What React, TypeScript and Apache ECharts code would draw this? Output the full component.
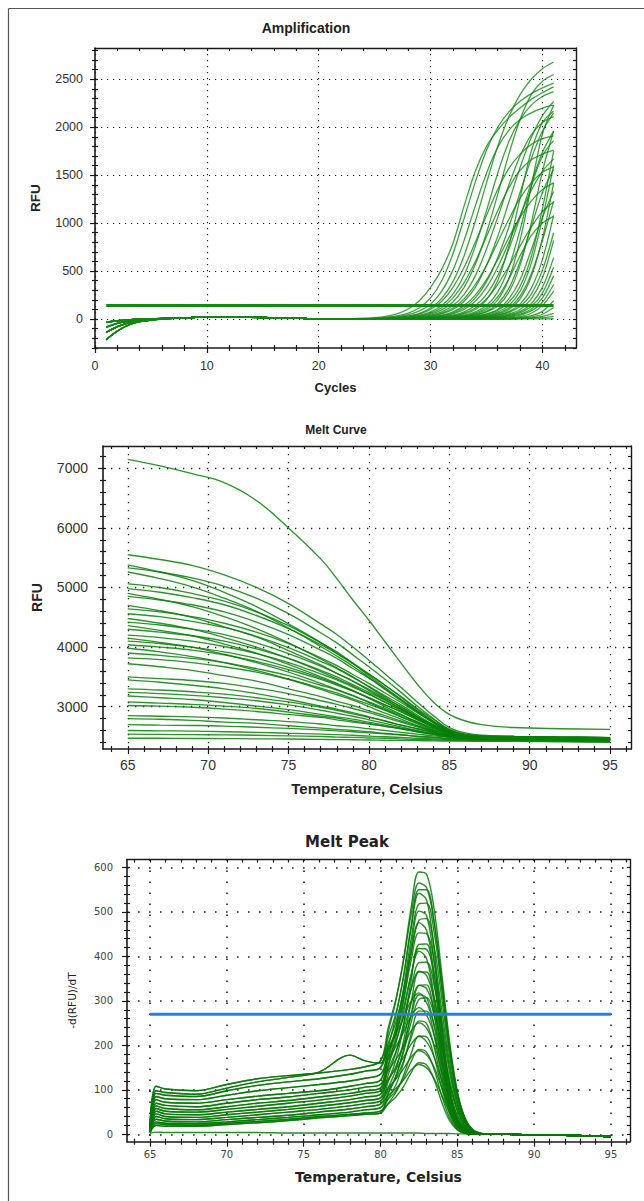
import React, { useEffect, useRef } from "react";
import * as echarts from "echarts";

// ================= Amplification =================
const AMP_CYCLES = [1,2,3,4,5,6,7,8,9,10,11,12,13,14,15,16,17,18,19,20,21,22,23,24,25,26,27,28,29,30,31,32,33,34,35,36,37,38,39,40,41];
// cycles 1..21 (baseline shapes)
const AMP_EARLY = [
  [-35,-18,-8,-2,2,6,10,14,17,19,20,20,19,17,15,12,9,7,5,3,2],
  [-85,-45,-22,-10,-3,3,9,13,17,19,21,21,20,18,15,12,10,7,5,3,2],
  [-140,-80,-40,-18,-6,2,8,13,17,20,22,22,21,18,16,13,10,7,5,3,2],
  [-215,-125,-62,-28,-10,0,7,13,17,20,22,22,21,19,16,13,10,7,5,3,1],
];
// cycles 22..41
const AMP_LATE = [
  [3,5,8,14,28,55,105,190,330,520,790,1180,1540,1800,1970,2100,2200,2290,2360,2420],
  [2,3,5,9,17,32,62,118,220,400,680,1050,1430,1760,2000,2160,2270,2350,2410,2460],
  [2,3,4,7,13,24,45,85,155,290,510,820,1180,1520,1790,1970,2080,2150,2200,2230],
  [2,2,3,5,9,17,32,60,115,215,390,660,1020,1420,1800,2110,2340,2500,2610,2680],
  [1,2,3,5,8,15,28,52,100,185,330,540,800,1080,1350,1570,1720,1820,1880,1910],
  [1,2,3,4,7,12,22,40,75,140,260,460,760,1130,1520,1850,2080,2230,2320,2370],
  [1,2,2,4,6,10,18,33,62,118,220,380,600,860,1130,1370,1550,1660,1720,1760],
  [1,1,2,3,5,8,15,27,50,95,178,330,570,900,1300,1720,2080,2340,2480,2550],
  [1,1,2,3,4,7,12,22,40,75,140,258,450,730,1060,1400,1700,1920,2050,2110],
  [1,1,2,3,4,6,10,18,33,62,115,210,360,560,800,1040,1260,1420,1530,1590],
  [1,1,1,2,3,5,9,16,29,54,100,185,330,560,860,1220,1580,1890,2120,2270],
  [1,1,1,2,3,4,7,12,22,40,75,140,250,410,620,850,1060,1230,1350,1420],
  [1,1,1,2,3,4,6,10,18,34,63,118,220,390,640,960,1320,1670,1960,2150],
  [0,1,1,1,2,3,5,9,16,29,54,100,185,330,540,800,1080,1340,1540,1670],
  [0,1,1,1,2,3,4,7,12,22,40,75,140,258,450,730,1060,1420,1740,1960],
  [0,1,1,1,2,3,4,6,10,18,33,62,115,210,360,550,760,960,1120,1220],
  [0,0,1,1,1,2,3,5,9,16,29,54,100,200,400,760,1260,1750,2050,2170],
  [0,0,1,1,1,2,3,4,7,12,22,40,75,140,280,540,930,1380,1700,1860],
  [0,0,1,1,1,2,3,4,6,10,18,33,62,118,230,420,660,870,1000,1070],
  [0,0,0,1,1,1,2,3,5,9,16,29,54,100,200,420,820,1380,1930,2230],
  [0,0,0,1,1,1,2,3,4,7,13,23,43,80,160,320,600,960,1320,1560],
  [0,0,0,0,1,1,2,3,4,7,12,22,40,75,135,280,560,1000,1540,1960],
  [0,0,0,0,1,1,1,2,3,5,9,16,29,54,100,210,410,720,1060,1330],
  [0,0,0,0,0,1,1,2,3,5,8,15,27,50,92,175,340,650,1150,1750],
  [0,0,0,0,0,1,1,2,3,4,7,12,22,40,75,140,290,580,1050,1600],
  [0,0,0,0,0,1,1,1,2,3,6,10,18,33,62,118,240,470,820,1230],
  [0,0,0,0,0,0,1,1,2,3,5,9,16,29,54,100,210,440,840,1420],
  [0,0,0,0,0,0,1,1,2,3,4,7,13,23,43,80,155,320,620,1080],
  [0,0,0,0,0,0,0,1,1,2,3,6,11,20,37,70,130,260,510,900],
  [0,0,0,0,0,0,0,1,1,2,3,5,9,16,29,54,100,210,430,820],
  [0,0,0,0,0,0,0,0,1,1,2,4,7,13,23,43,80,160,330,640],
  [0,0,0,0,0,0,0,0,1,1,2,3,6,10,19,35,66,130,270,540],
  [0,0,0,0,0,0,0,0,0,1,1,2,4,8,15,28,52,105,220,450],
  [0,0,0,0,0,0,0,0,0,1,1,2,3,6,12,22,42,85,175,360],
  [0,0,0,0,0,0,0,0,0,0,1,1,2,4,7,13,25,60,140,290],
  [0,0,0,0,0,0,0,0,0,0,0,1,1,2,4,8,16,35,80,190],
  [0,0,0,0,0,0,0,0,0,0,0,0,1,2,3,5,10,22,50,120],
  [0,0,0,0,0,0,0,0,0,0,0,0,0,1,2,3,6,12,28,60],
  [0,0,0,0,0,0,0,0,0,0,0,0,1,1,2,3,5,8,14,25],
  [0,0,0,0,0,0,0,0,0,0,0,0,0,0,0,0,1,1,2,3],
];
const AMP_THRESHOLD = 140;
const AMP_X_MAJOR = [0, 10, 20, 30, 40];
const AMP_X_MINOR = [2,4,6,8,12,14,16,18,22,24,26,28,32,34,36,38,42];
const AMP_Y_MAJOR = [0, 500, 1000, 1500, 2000, 2500];
const AMP_Y_MINOR = [-300,-200,-100,100,200,300,400,600,700,800,900,1100,1200,1300,1400,1600,1700,1800,1900,2100,2200,2300,2400,2600,2700,2800];

// ================= Melt Curve =================
const MC_TEMPS = [65,67,69,71,73,75,77,78,79,80,81,82,83,84,85,86,87,89,92,95];
const MC_CURVES = [
  [5550,5470,5370,5210,5000,4730,4390,4210,4000,3780,3550,3320,3080,2850,2650,2560,2520,2500,2490,2480],
  [5380,5260,5120,4920,4680,4390,4080,3900,3730,3520,3320,3120,2920,2730,2580,2520,2490,2480,2470,2460],
  [5330,5260,5160,5020,4820,4560,4240,4070,3870,3670,3460,3240,3010,2800,2610,2520,2490,2470,2460,2450],
  [5260,5150,5010,4820,4600,4320,4010,3850,3680,3490,3290,3100,2910,2730,2590,2520,2500,2490,2480,2470],
  [5060,5000,4900,4770,4590,4360,4070,3920,3730,3550,3360,3160,2950,2760,2590,2510,2480,2460,2450,2440],
  [4980,4920,4830,4710,4530,4310,4040,3890,3720,3540,3360,3170,2970,2790,2620,2540,2510,2500,2490,2480],
  [4900,4800,4680,4510,4310,4070,3800,3650,3500,3330,3160,2990,2820,2660,2540,2480,2460,2450,2440,2430],
  [4850,4790,4710,4590,4420,4210,3950,3810,3640,3480,3300,3120,2930,2750,2600,2520,2490,2480,2470,2460],
  [4700,4610,4500,4340,4170,3940,3700,3560,3430,3270,3120,2960,2800,2660,2550,2500,2480,2470,2460,2450],
  [4640,4590,4510,4400,4250,4060,3820,3690,3540,3390,3230,3070,2900,2740,2600,2530,2500,2490,2480,2470],
  [4560,4510,4430,4330,4180,3990,3760,3640,3490,3340,3180,3030,2860,2700,2570,2500,2470,2460,2450,2440],
  [4480,4400,4300,4160,4000,3810,3590,3470,3350,3210,3070,2940,2800,2670,2570,2520,2510,2500,2490,2480],
  [4420,4370,4300,4210,4070,3890,3680,3560,3430,3290,3140,3000,2840,2690,2570,2510,2480,2470,2460,2450],
  [4360,4280,4190,4050,3900,3710,3500,3390,3270,3140,3000,2870,2740,2610,2520,2470,2460,2450,2440,2430],
  [4300,4250,4190,4100,3970,3810,3610,3500,3370,3240,3110,2970,2830,2690,2570,2510,2490,2480,2470,2460],
  [4200,4160,4100,4010,3890,3740,3550,3450,3330,3210,3080,2950,2820,2690,2580,2520,2500,2490,2480,2470],
  [4150,4080,4000,3880,3740,3580,3390,3290,3190,3070,2950,2830,2710,2600,2520,2480,2470,2460,2450,2440],
  [4100,4060,4000,3920,3810,3660,3480,3380,3270,3150,3030,2910,2780,2660,2550,2500,2480,2470,2460,2450],
  [4040,4000,3950,3870,3760,3620,3460,3360,3260,3150,3030,2920,2790,2680,2580,2530,2510,2500,2490,2480],
  [3980,3920,3840,3740,3610,3460,3290,3200,3110,3000,2890,2790,2680,2580,2500,2470,2460,2450,2440,2430],
  [3900,3860,3810,3740,3640,3520,3360,3280,3180,3080,2970,2860,2750,2640,2550,2510,2490,2480,2470,2460],
  [3820,3790,3740,3670,3580,3460,3310,3230,3130,3040,2940,2830,2730,2630,2540,2490,2480,2470,2460,2450],
  [3720,3670,3610,3520,3430,3300,3170,3090,3020,2930,2850,2760,2680,2600,2530,2500,2495,2490,2480,2470],
  [3500,3470,3440,3390,3310,3220,3100,3040,2970,2900,2820,2740,2660,2580,2510,2480,2470,2460,2450,2440],
  [3450,3410,3360,3300,3220,3120,3010,2960,2900,2830,2760,2690,2630,2560,2510,2490,2485,2480,2470,2460],
  [3300,3280,3250,3210,3150,3080,2990,2940,2880,2820,2760,2690,2630,2570,2510,2485,2475,2470,2460,2450],
  [3240,3220,3190,3150,3100,3030,2940,2890,2840,2780,2720,2660,2600,2540,2490,2465,2455,2450,2440,2430],
  [3180,3150,3120,3070,3010,2950,2870,2830,2790,2740,2690,2640,2590,2550,2515,2500,2495,2490,2480,2470],
  [3080,3060,3040,3010,2970,2910,2840,2810,2760,2720,2670,2630,2580,2530,2490,2470,2465,2460,2450,2440],
  [3020,3010,2990,2960,2920,2870,2820,2780,2740,2710,2670,2630,2580,2540,2510,2490,2485,2480,2470,2460],
  [2850,2840,2830,2810,2780,2750,2710,2680,2660,2630,2600,2570,2540,2510,2490,2475,2470,2470,2460,2450],
  [2800,2790,2770,2740,2720,2680,2640,2620,2600,2580,2550,2530,2500,2480,2460,2455,2450,2450,2440,2430],
  [2700,2690,2685,2675,2655,2635,2610,2595,2580,2560,2545,2525,2505,2490,2470,2465,2460,2460,2450,2440],
  [2600,2595,2590,2580,2570,2555,2540,2530,2520,2505,2495,2485,2470,2460,2450,2445,2440,2440,2430,2420],
  [2540,2535,2530,2528,2520,2510,2500,2490,2485,2475,2470,2460,2450,2445,2435,2430,2430,2430,2420,2410],
  [2470,2470,2467,2465,2461,2457,2451,2448,2445,2441,2437,2434,2430,2426,2423,2421,2420,2420,2410,2400],
  [7150,7040,6910,6760,6460,6000,5480,5150,4790,4450,4090,3730,3380,3080,2870,2760,2700,2650,2630,2620],
];
const MC_X_MAJOR = [65, 70, 75, 80, 85, 90, 95];
const MC_X_MINOR = [64,66,67,68,69,71,72,73,74,76,77,78,79,81,82,83,84,86,87,88,89,91,92,93,94,96];
const MC_Y_MAJOR = [3000, 4000, 5000, 6000, 7000];
const MC_Y_MINOR = [2400,2600,2800,3200,3400,3600,3800,4200,4400,4600,4800,5200,5400,5600,5800,6200,6400,6600,6800,7200];

// ================= Melt Peak =================
const MP_TEMPS = [65,65.4,66,68,70,72,74,76,78,79,80,80.5,81,81.5,82,82.5,83,83.5,84,84.5,85,85.5,86,86.5,87,88,90,92,95];
// values at 65 .. 80
const MP_BASES = [
  [25,108,102,98,112,125,132,138,146,152,165],
  [18,98,94,90,104,118,128,140,178,165,160],
  [15,92,88,85,98,110,118,125,135,142,150],
  [12,85,80,78,88,98,105,112,120,126,135],
  [12,78,72,70,78,86,92,98,108,114,122],
  [10,70,65,62,70,78,84,92,100,106,112],
  [10,64,58,55,62,70,76,84,92,98,104],
  [8,58,52,50,56,63,70,77,86,92,98],
  [8,52,46,44,50,56,62,70,78,84,90],
  [6,46,40,38,44,50,56,63,71,76,82],
  [6,40,35,33,38,44,50,56,64,69,75],
  [5,34,30,28,33,38,43,50,57,62,68],
  [5,28,25,24,28,33,38,44,50,55,60],
  [4,24,22,21,25,29,34,40,45,48,52],
  [4,20,18,18,22,26,31,37,42,45,48],
  [2,5,4,4,4,4,3,3,3,3,3],
];
const MP_CURVE_BASE = [2,4,0,6,3,8,1,5,10,7,2,9,11,4,12,6,8,1,13,3,10,5,14,7,12,9,13,11,0,14,15];
// values at 80.5 .. 87
const MP_CURVE_PEAK = [
  [229,300,394,511,590,585,504,358,208,97,37,10,3,0],
  [196,265,356,471,550,550,475,339,197,93,35,10,2,0],
  [218,272,354,463,542,527,413,243,106,34,9,2,0,0],
  [175,240,329,440,518,520,452,323,188,88,34,9,2,0],
  [185,237,316,423,502,492,387,228,100,31,7,1,0,0],
  [156,218,301,407,481,485,421,302,176,83,32,9,2,0],
  [205,252,322,412,476,459,359,211,93,30,8,1,0,0],
  [173,228,301,392,453,451,389,277,160,75,29,8,2,0],
  [119,167,243,347,427,428,340,200,87,27,7,0,0,0],
  [154,205,274,359,418,416,359,256,149,70,27,7,2,0],
  [190,228,285,360,412,395,308,181,79,25,6,0,0,0],
  [134,183,248,329,386,387,335,239,139,65,25,7,2,0],
  [105,145,210,298,365,365,290,170,75,23,6,0,0,0],
  [169,210,263,327,367,357,304,215,123,58,22,6,1,0],
  [94,132,191,272,335,336,266,157,68,21,5,0,0,0],
  [147,185,235,296,335,327,280,198,114,53,20,5,1,0],
  [121,153,201,267,314,307,241,142,62,20,5,0,0,0],
  [195,226,262,300,318,296,246,170,96,44,17,4,1,0],
  [81,111,160,226,277,277,220,129,56,17,4,0,0,0],
  [169,197,229,267,285,268,223,155,88,40,15,4,1,0],
  [100,126,165,217,255,249,195,115,50,16,4,0,0,0],
  [143,168,197,233,251,238,200,139,79,36,13,4,1,0],
  [70,94,132,182,221,219,173,102,45,14,3,0,0,0],
  [125,147,173,203,220,208,174,121,69,32,12,3,1,0],
  [79,98,126,164,191,185,145,85,37,11,2,0,0,0],
  [105,124,147,174,188,179,150,104,59,27,10,3,1,0],
  [68,84,107,139,161,156,122,71,31,10,2,0,0,0],
  [87,103,122,145,157,149,125,87,50,23,9,2,1,0],
  [239,304,390,496,565,555,476,336,195,91,35,9,2,0],
  [90,130,184,253,303,307,268,192,113,53,20,6,1,0],
  [3,3,3,3,3,2,2,2,2,1,1,1,1,0],
];
// values at 88, 90, 92, 95
const MP_TAIL = [0, -1, -2, -5];
const MP_THRESHOLD = 270;
const MP_THRESHOLD_RANGE = [65, 95];
const MP_X_MAJOR = [65, 70, 75, 80, 85, 90, 95];
const MP_X_MINOR = [64,66,67,68,69,71,72,73,74,76,77,78,79,81,82,83,84,86,87,88,89,91,92,93,94,96];
const MP_Y_MAJOR = [0, 100, 200, 300, 400, 500, 600];
const MP_Y_MINOR = [20,40,60,80,120,140,160,180,220,240,260,280,320,340,360,380,420,440,460,480,520,540,560,580];

// ================= helpers =================
const SANS = '"Liberation Sans", Arial, Helvetica, sans-serif';
const VERD = '"DejaVu Sans", Verdana, sans-serif';
const AXIS_COLOR = "#1a1a1a";

type Panel = {
  left: number; top: number; width: number; height: number;
  xMin: number; xMax: number; yMin: number; yMax: number;
  xMajor: number[]; xMinor: number[]; yMajor: number[]; yMinor: number[];
  font: string; labelSize: number; labelColor: string;
  xLabelMargin: number; yLabelMargin: number;
  dash: number[]; dotWidth: number;
  xName: string; yName: string; xNameGap: number; yNameGap: number;
  xNameStyle: any; yNameStyle: any;
};

const plain = (v: number) => String(v);

function panelAxes(p: Panel, g: number) {
  const base: any = {
    type: "value", gridIndex: g,
    splitLine: { show: false }, minorTick: { show: false }, minorSplitLine: { show: false },
    axisLabel: { show: false }, axisPointer: { show: false },
  };
  const tickStyle = { color: AXIS_COLOR, width: 1.2 };
  const xr = { min: p.xMin, max: p.xMax };
  const yr = { min: p.yMin, max: p.yMax };
  const xAll = [...p.xMajor, ...p.xMinor];
  const yAll = [...p.yMajor, ...p.yMinor];
  const xs = [
    {
      ...base, ...xr, position: "bottom",
      axisLine: { show: true, onZero: false, lineStyle: { color: AXIS_COLOR, width: 1.6 } },
      axisTick: { show: true, inside: false, length: 5, customValues: p.xMajor, lineStyle: tickStyle },
      axisLabel: { show: true, customValues: p.xMajor, formatter: plain, margin: p.xLabelMargin, fontFamily: p.font, fontSize: p.labelSize, color: p.labelColor },
      splitLine: { show: true, lineStyle: { color: "#222", width: p.dotWidth, type: p.dash } },
      name: p.xName, nameLocation: "middle", nameGap: p.xNameGap, nameTextStyle: p.xNameStyle,
    },
    { ...base, ...xr, position: "bottom", axisLine: { show: false, onZero: false },
      axisTick: { show: true, inside: true, length: 3, customValues: xAll, lineStyle: tickStyle } },
    { ...base, ...xr, position: "bottom", axisLine: { show: false, onZero: false },
      axisTick: { show: true, inside: false, length: 3, customValues: p.xMinor, lineStyle: tickStyle } },
    { ...base, ...xr, position: "top",
      axisLine: { show: true, onZero: false, lineStyle: { color: AXIS_COLOR, width: 1.4 } },
      axisTick: { show: true, inside: true, length: 3, customValues: xAll, lineStyle: tickStyle } },
  ];
  const ys = [
    {
      ...base, ...yr, position: "left",
      axisLine: { show: true, onZero: false, lineStyle: { color: AXIS_COLOR, width: 1.6 } },
      axisTick: { show: true, inside: false, length: 5, customValues: p.yMajor, lineStyle: tickStyle },
      axisLabel: { show: true, customValues: p.yMajor, formatter: plain, margin: p.yLabelMargin, fontFamily: p.font, fontSize: p.labelSize, color: p.labelColor },
      splitLine: { show: true, lineStyle: { color: "#222", width: p.dotWidth, type: p.dash } },
      name: p.yName, nameLocation: "middle", nameGap: p.yNameGap, nameTextStyle: p.yNameStyle,
    },
    { ...base, ...yr, position: "left", axisLine: { show: false, onZero: false },
      axisTick: { show: true, inside: true, length: 3, customValues: yAll, lineStyle: tickStyle } },
    { ...base, ...yr, position: "left", axisLine: { show: false, onZero: false },
      axisTick: { show: true, inside: false, length: 3, customValues: p.yMinor, lineStyle: tickStyle } },
    { ...base, ...yr, position: "right",
      axisLine: { show: true, onZero: false, lineStyle: { color: AXIS_COLOR, width: 1.4 } },
      axisTick: { show: true, inside: true, length: 3, customValues: yAll, lineStyle: tickStyle } },
  ];
  return { xs, ys };
}

function line(g: number, data: number[][], color: string, width: number, smooth: number, z = 2) {
  return {
    type: "line", xAxisIndex: g * 4, yAxisIndex: g * 4, data,
    showSymbol: false, symbol: "none", smooth, silent: true, z,
    lineStyle: { color, width }, emphasis: { disabled: true },
  };
}

const PANELS: Panel[] = [
  {
    left: 95, top: 48, width: 481, height: 300,
    xMin: 0, xMax: 43, yMin: -302, yMax: 2826,
    xMajor: AMP_X_MAJOR, xMinor: AMP_X_MINOR, yMajor: AMP_Y_MAJOR, yMinor: AMP_Y_MINOR,
    font: SANS, labelSize: 12.5, labelColor: "#333", xLabelMargin: 11, yLabelMargin: 12,
    dash: [1.2, 4.8], dotWidth: 1.2,
    xName: "Cycles", yName: "RFU", xNameGap: 33, yNameGap: 53,
    xNameStyle: { fontFamily: SANS, fontSize: 13, fontWeight: "bold", color: "#222" },
    yNameStyle: { fontFamily: SANS, fontSize: 13.5, fontWeight: "bold", color: "#222" },
  },
  {
    left: 103, top: 446, width: 528, height: 303,
    xMin: 63.46, xMax: 96.3, yMin: 2290, yMax: 7374,
    xMajor: MC_X_MAJOR, xMinor: MC_X_MINOR, yMajor: MC_Y_MAJOR, yMinor: MC_Y_MINOR,
    font: SANS, labelSize: 14, labelColor: "#333", xLabelMargin: 9, yLabelMargin: 15,
    dash: [1.3, 6.7], dotWidth: 1.3,
    xName: "Temperature, Celsius", yName: "RFU", xNameGap: 32, yNameGap: 59,
    xNameStyle: { fontFamily: SANS, fontSize: 15, fontWeight: "bold", color: "#222" },
    yNameStyle: { fontFamily: SANS, fontSize: 14, fontWeight: "bold", color: "#222" },
  },
  {
    left: 127, top: 859.5, width: 503, height: 282.2,
    xMin: 63.5, xMax: 96.24, yMin: -16.6, yMax: 618,
    xMajor: MP_X_MAJOR, xMinor: MP_X_MINOR, yMajor: MP_Y_MAJOR, yMinor: MP_Y_MINOR,
    font: VERD, labelSize: 10, labelColor: "#444", xLabelMargin: 8, yLabelMargin: 14,
    dash: [1.6, 9.4], dotWidth: 1.6,
    xName: "Temperature, Celsius", yName: "-d(RFU)/dT", xNameGap: 28, yNameGap: 50,
    xNameStyle: { fontFamily: VERD, fontSize: 14, fontWeight: "bold", color: "#222" },
    yNameStyle: { fontFamily: VERD, fontSize: 10.5, color: "#222" },
  },
];

function buildOption() {
  const grids: any[] = [];
  const xAxes: any[] = [];
  const yAxes: any[] = [];
  PANELS.forEach((p, g) => {
    grids.push({ left: p.left, top: p.top, width: p.width, height: p.height, containLabel: false, outerBoundsMode: "none" });
    const a = panelAxes(p, g);
    xAxes.push(...a.xs);
    yAxes.push(...a.ys);
  });

  const series: any[] = [];
  const ampColor = "rgba(18,136,18,0.8)";
  AMP_LATE.forEach((late, i) => {
    const vals = [...AMP_EARLY[i % AMP_EARLY.length], ...late];
    series.push(line(0, vals.map((v, k) => [AMP_CYCLES[k], v]), ampColor, 1.3, 0.3));
  });
  series.push(line(0, [[AMP_CYCLES[0], AMP_THRESHOLD], [AMP_CYCLES[AMP_CYCLES.length - 1], AMP_THRESHOLD]], "#148a14", 3, 0, 3));

  const mcColor = "rgba(8,128,8,0.85)";
  MC_CURVES.forEach((c) => {
    series.push(line(1, c.map((v, k) => [MC_TEMPS[k], v]), mcColor, 1.35, 0.4));
  });

  const mpColor = "rgba(5,120,5,0.85)";
  MP_CURVE_PEAK.forEach((pk, i) => {
    const vals = [...MP_BASES[MP_CURVE_BASE[i]], ...pk, ...MP_TAIL];
    series.push(line(2, vals.map((v, k) => [MP_TEMPS[k], v]), mpColor, 1.4, 0.35));
  });
  series.push(line(2, [[MP_THRESHOLD_RANGE[0], MP_THRESHOLD], [MP_THRESHOLD_RANGE[1], MP_THRESHOLD]], "#2b7fd6", 3, 0, 5));

  const title = (text: string, x: number, y: number, font: string) => ({
    type: "text", x, y, silent: true,
    style: { text, font, fill: "#222", textAlign: "center", textVerticalAlign: "middle" },
  });

  return {
    animation: false,
    backgroundColor: "#ffffff",
    grid: grids,
    xAxis: xAxes,
    yAxis: yAxes,
    series,
    graphic: [
      { type: "line", silent: true, shape: { x1: 8.5, y1: 8.5, x2: 644, y2: 8.5 }, style: { stroke: "#555", lineWidth: 1.2 } },
      { type: "line", silent: true, shape: { x1: 8.5, y1: 8.5, x2: 8.5, y2: 1201 }, style: { stroke: "#555", lineWidth: 1.2 } },
      title("Amplification", 306, 28, `bold 14px ${SANS}`),
      title("Melt Curve", 336, 430, `bold 12px ${SANS}`),
      title("Melt Peak", 347, 842, `bold 15px ${VERD}`),
    ],
  };
}

export default function App() {
  const ref = useRef<HTMLDivElement>(null);
  useEffect(() => {
    if (!ref.current) return;
    const chart = echarts.init(ref.current, undefined, { renderer: "svg" });
    chart.setOption(buildOption() as any);
    return () => chart.dispose();
  }, []);
  return (
    <div
      ref={ref}
      style={{ position: "fixed", left: 0, top: 0, width: 644, height: 1201, background: "#fff" }}
    />
  );
}
